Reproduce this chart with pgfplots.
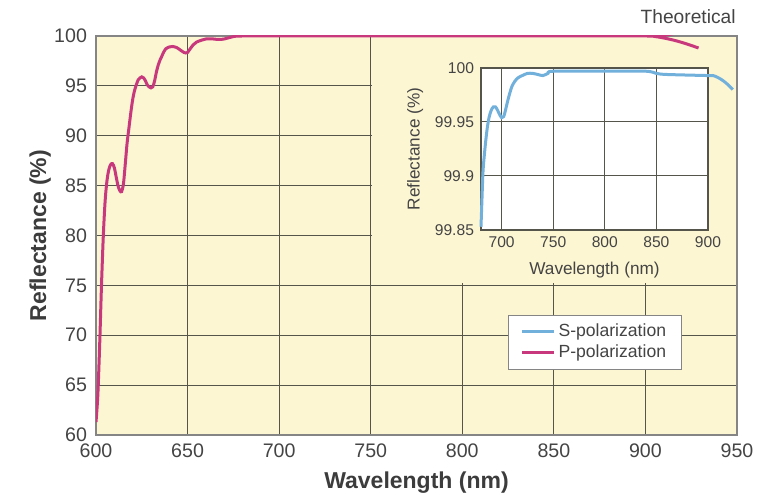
\documentclass[border=0pt]{standalone}
\usepackage{fontspec}
\setmainfont{Liberation Sans}
\usepackage{pgfplots}
\pgfplotsset{compat=1.18}

\definecolor{bgc}{HTML}{FDF6D3}
\definecolor{gridc}{HTML}{55554B}
\definecolor{framec}{HTML}{858585}
\definecolor{tickc}{HTML}{444444}
\definecolor{labelc}{HTML}{3C3C3C}
\definecolor{ppink}{HTML}{C8387C}
\definecolor{sblue}{HTML}{72B0DC}

\pgfplotstableread{
wl R
600 61.3
601 64
602 69
603 75
604 80
605 83.5
606 85.5
607 86.6
608 87.1
609 87.2
610 86.8
611 85.9
612 85.0
613 84.5
614 84.4
615 85.2
616 87.2
617 89.3
618 90.8
619 92.3
620 93.6
621 94.5
622 95.1
623 95.6
624 95.8
625 95.9
626 95.8
627 95.5
628 95.1
629 94.9
630 94.8
631 94.9
632 95.5
633 96.4
634 97.1
635 97.6
636 98.0
637 98.4
638 98.7
640 98.9
642 98.95
644 98.85
646 98.6
648 98.35
649 98.3
650 98.35
651 98.6
653 99.1
655 99.4
658 99.6
660 99.7
663 99.72
666 99.66
668 99.65
670 99.7
673 99.85
676 99.97
680 100
700 100
800 100
900 100
905 99.95
910 99.8
915 99.6
920 99.35
925 99.05
929 98.8
}\ppol

\pgfplotstableread{
wl R
680 99.853
681 99.88
682 99.905
684 99.927
686 99.944
688 99.955
690 99.961
692 99.964
694 99.964
696 99.961
698 99.957
700 99.954
702 99.955
704 99.962
706 99.970
708 99.977
710 99.983
713 99.988
716 99.991
720 99.993
725 99.995
730 99.995
735 99.994
740 99.993
745 99.995
750 99.997
800 99.997
840 99.997
850 99.995
860 99.994
900 99.993
905 99.993
910 99.991
915 99.988
920 99.984
924 99.980
}\spol

\begin{document}
\begin{tikzpicture}
\path[use as bounding box] (-48pt,-31.5pt) rectangle (333pt,217.5pt);

\begin{axis}[
    at={(0pt,0pt)}, anchor=south west,
    width=320.5pt, height=199.5pt, scale only axis,
    xmin=600, xmax=950, ymin=60, ymax=100,
    xtick={600,650,...,950}, ytick={60,65,...,100},
    grid=major,
    major grid style={color=gridc, line width=0.5pt},
    axis line style={color=framec, line width=0.8pt},
    tick style={draw=none},
    axis background/.style={fill=bgc},
    /pgf/number format/assume math mode=true,
    ticklabel style={font=\fontsize{9.8}{11}\selectfont, text=tickc},
    xticklabel style={yshift=-1pt},
    yticklabel style={xshift=-1pt},
    xlabel={Wavelength (nm)}, ylabel={Reflectance (\%)},
    label style={font=\bfseries\fontsize{11.5}{13}\selectfont, text=labelc},
    xlabel style={at={(axis description cs:0.5,-0.12)}, anchor=center},
    ylabel style={at={(axis description cs:-0.087,0.5)}, anchor=center},
    legend style={at={(rel axis cs:0.642,0.301)}, anchor=north west,
        draw=framec, fill=white, font=\fontsize{8.8}{10}\selectfont,
        text=tickc, inner xsep=6.5pt, inner ysep=3pt,
        nodes={inner sep=1.3pt}},
    legend cell align=left,
    legend image code/.code={\draw[#1] (0pt,0pt) -- (16pt,0pt);},
]
\fill[bgc] (axis cs:750.6,75.25) rectangle (axis cs:949.6,99.85);
\addlegendimage{sblue, line width=1.5pt}
\addlegendentry{S-polarization}
\addplot[ppink, line width=1.5pt, smooth, tension=0.5] table[x=wl, y=R] {\ppol};
\addlegendentry{P-polarization}
\end{axis}

\node[anchor=east, font=\fontsize{9.6}{11}\selectfont, text=tickc, inner sep=0pt]
    at (320pt,209pt) {Theoretical};

\begin{axis}[
    at={(192.5pt,102.5pt)}, anchor=south west,
    width=113.5pt, height=81pt, scale only axis,
    xmin=680, xmax=900, ymin=99.85, ymax=100,
    xtick={700,750,...,900},
    ytick={99.85,99.9,99.95,100},
    yticklabels={99.85,99.9,99.95,100},
    scaled y ticks=false,
    clip=false,
    grid=major,
    major grid style={color=gridc, line width=0.5pt},
    axis line style={color=gridc, line width=0.6pt},
    tick style={draw=none},
    axis background/.style={fill=white},
    /pgf/number format/assume math mode=true,
    ticklabel style={font=\fontsize{7.8}{9}\selectfont, text=tickc},
    xlabel={Wavelength (nm)}, ylabel={Reflectance (\%)},
    label style={font=\fontsize{8.6}{10}\selectfont, text=tickc},
    xlabel style={at={(axis description cs:0.5,-0.247)}, anchor=center},
    ylabel style={at={(axis description cs:-0.29,0.5)}, anchor=center},
]
\addplot[sblue, line width=1.5pt, smooth, tension=0.5] table[x=wl, y=R] {\spol};
\end{axis}
\end{tikzpicture}
\end{document}
